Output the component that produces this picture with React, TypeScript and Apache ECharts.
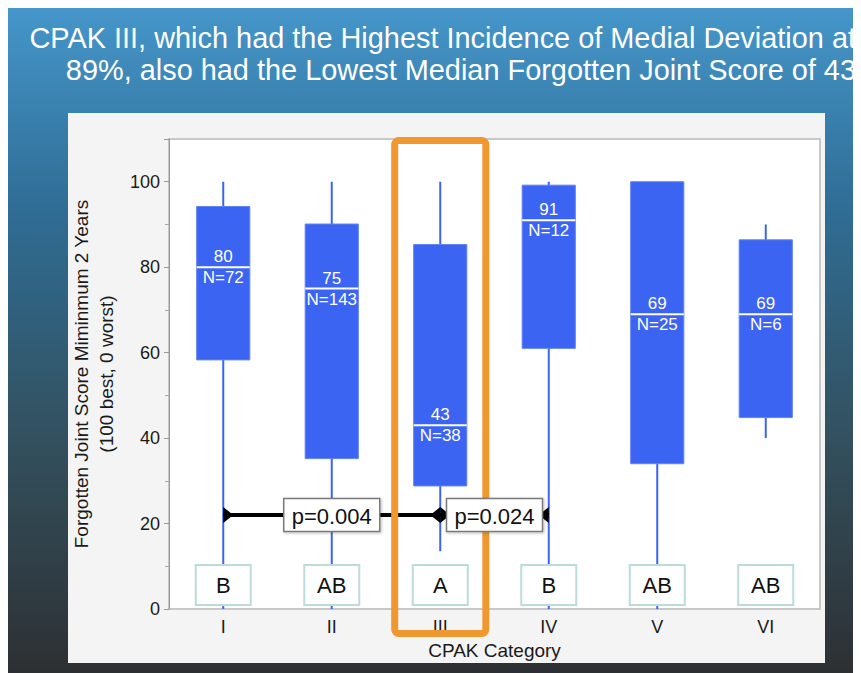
import React, { useEffect, useRef } from 'react';
import * as echarts from 'echarts';

// ---- data ----
const categories = ['I', 'II', 'III', 'IV', 'V', 'VI'];
const whiskerLow = [0, 0, 13.5, 0, 0, 40];
const q1Values = [58.3, 35.2, 28.8, 61, 34, 44.8];
const medianValues = [80, 75, 43, 91, 69, 69];
const q3Values = [94.2, 90.1, 85.3, 99.2, 100, 86.4];
const whiskerHigh = [100, 100, 100, 100, 100, 90];
const nCounts = [72, 143, 38, 12, 25, 6];
const groupLetters = ['B', 'AB', 'A', 'B', 'AB', 'AB'];
const comparisonFrom = [0, 2];
const comparisonTo = [2, 3];
const comparisonLabels = ['p=0.004', 'p=0.024'];
const comparisonLevel = 22;
const letterLevel = 5.6;
const highlightedCategory = 'III';
const yTickLabels = [0, 20, 40, 60, 80, 100];
const Y_MAX = 110;

const titleLines = [
  'CPAK III, which had the Highest Incidence of Medial Deviation at',
  '89%, also had the Lowest Median Forgotten Joint Score of 43',
];

const FONT = '"Liberation Sans", Arial, Helvetica, sans-serif';
const BLUE = '#3b64f2';

export default function App() {
  const ref = useRef<HTMLDivElement>(null);

  useEffect(() => {
    document.documentElement.style.overflow = 'hidden';
    document.body.style.overflow = 'hidden';
    const el = ref.current;
    if (!el) return;
    const chart = echarts.init(el, undefined, { renderer: 'svg' });
    const W = el.clientWidth;
    const H = el.clientHeight;

    const boxData = categories.map((_, i) => [
      i,
      whiskerLow[i],
      q1Values[i],
      medianValues[i],
      q3Values[i],
      whiskerHigh[i],
    ]);
    const letterData = categories.map((_, i) => [i, letterLevel]);
    const compData = comparisonFrom.map((f, i) => [f, comparisonTo[i], comparisonLevel]);
    const hiIdx = categories.indexOf(highlightedCategory);

    const option: any = {
      animation: false,
      title: {
        text: titleLines.join('\n'),
        left: W - 5,
        top: 14,
        padding: 0,
        textAlign: 'right',
        textStyle: {
          color: '#ffffff',
          fontSize: 28.9,
          lineHeight: 32,
          fontWeight: 'normal',
          fontFamily: FONT,
        },
      },
      graphic: [
        {
          type: 'rect',
          z: -20,
          silent: true,
          shape: { x: 0, y: 0, width: W, height: H },
          style: {
            fill: new echarts.graphic.LinearGradient(0, 0, 0, 1, [
              { offset: 0, color: '#4596ca' },
              { offset: 0.3, color: '#2f6d95' },
              { offset: 0.65, color: '#33505e' },
              { offset: 1, color: '#2d3033' },
            ]),
          },
        },
        {
          type: 'rect',
          z: -10,
          silent: true,
          shape: { x: 60, y: 105, width: 757, height: 550 },
          style: { fill: '#f4f4f4' },
        },
      ],
      grid: {
        left: 161,
        right: 41,
        top: 131,
        bottom: 64,
        show: true,
        backgroundColor: '#ffffff',
        borderColor: '#c8c8c8',
        borderWidth: 2,
      },
      xAxis: {
        type: 'category',
        data: categories,
        axisLine: { show: false },
        axisTick: { show: false },
        axisLabel: { color: '#1a1a1a', fontSize: 18, margin: 9, fontFamily: FONT },
        name: 'CPAK Category',
        nameLocation: 'middle',
        nameGap: 30,
        nameTextStyle: { color: '#1a1a1a', fontSize: 19, fontFamily: FONT },
        splitLine: { show: false },
      },
      yAxis: {
        type: 'value',
        min: 0,
        max: Y_MAX,
        interval: 20,
        axisLine: { show: true, lineStyle: { color: '#999999', width: 1 } },
        axisTick: { show: true, length: 5, lineStyle: { color: '#999999' } },
        minorTick: { show: true, splitNumber: 2, length: 4, lineStyle: { color: '#aaaaaa' } },
        splitLine: { show: false },
        axisLabel: {
          color: '#1a1a1a',
          fontSize: 18,
          margin: 9,
          fontFamily: FONT,
          showMaxLabel: false,
          formatter: (v: number) => (yTickLabels.indexOf(v) >= 0 ? String(v) : ''),
        },
        name: 'Forgotten Joint Score Miminmum 2 Years\n(100 best, 0 worst)',
        nameLocation: 'middle',
        nameRotate: 90,
        nameGap: 47,
        nameTextStyle: { color: '#1a1a1a', fontSize: 19, lineHeight: 25, fontFamily: FONT },
      },
      series: [
        {
          type: 'custom',
          name: 'boxes',
          clip: false,
          z: 2,
          encode: { x: 0, y: [1, 2, 3, 4, 5] },
          data: boxData,
          renderItem: (params: any, api: any) => {
            const idx = api.value(0);
            const lo = api.coord([idx, api.value(1)]);
            const q1 = api.coord([idx, api.value(2)]);
            const med = api.coord([idx, api.value(3)]);
            const q3 = api.coord([idx, api.value(4)]);
            const hi = api.coord([idx, api.value(5)]);
            const w = api.size([1, 0])[0] * 0.49;
            const x = med[0];
            const i = params.dataIndex;
            return {
              type: 'group',
              children: [
                {
                  type: 'line',
                  shape: { x1: x, y1: hi[1], x2: x, y2: lo[1] },
                  style: { stroke: BLUE, lineWidth: 2 },
                },
                {
                  type: 'rect',
                  shape: { x: x - w / 2, y: q3[1], width: w, height: q1[1] - q3[1] },
                  style: { fill: BLUE, stroke: '#6283f5', lineWidth: 1 },
                },
                {
                  type: 'line',
                  shape: { x1: x - w / 2, y1: med[1], x2: x + w / 2, y2: med[1] },
                  style: { stroke: '#ffffff', lineWidth: 2 },
                },
                {
                  type: 'text',
                  x: x,
                  y: med[1],
                  style: {
                    text: `${medianValues[i]}\nN=${nCounts[i]}`,
                    fill: '#ffffff',
                    fontSize: 17,
                    lineHeight: 21,
                    fontFamily: FONT,
                    align: 'center',
                    verticalAlign: 'middle',
                  },
                },
              ],
            };
          },
        },
        {
          type: 'custom',
          name: 'letters',
          clip: false,
          z: 3,
          encode: { x: 0, y: 1 },
          data: letterData,
          renderItem: (params: any, api: any) => {
            const p = api.coord([api.value(0), api.value(1)]);
            const bw = 55;
            const bh = 40;
            return {
              type: 'group',
              children: [
                {
                  type: 'rect',
                  shape: { x: p[0] - bw / 2, y: p[1] - bh / 2, width: bw, height: bh },
                  style: { fill: '#ffffff', stroke: '#bcdcdc', lineWidth: 2 },
                },
                {
                  type: 'text',
                  x: p[0],
                  y: p[1],
                  style: {
                    text: groupLetters[params.dataIndex],
                    fill: '#111111',
                    fontSize: 22,
                    fontFamily: FONT,
                    align: 'center',
                    verticalAlign: 'middle',
                  },
                },
              ],
            };
          },
        },
        {
          type: 'custom',
          name: 'comparisonLines',
          clip: false,
          z: 4,
          encode: { x: [0, 1], y: 2 },
          data: compData,
          renderItem: (params: any, api: any) => {
            const a = api.coord([api.value(0), api.value(2)]);
            const b = api.coord([api.value(1), api.value(2)]);
            const y = a[1];
            const hh = 8;
            const tw = 10;
            return {
              type: 'group',
              children: [
                {
                  type: 'line',
                  shape: { x1: a[0], y1: y, x2: b[0], y2: y },
                  style: { stroke: '#000000', lineWidth: 4 },
                },
                {
                  type: 'polygon',
                  shape: { points: [[a[0], y - hh], [a[0] + tw, y], [a[0], y + hh]] },
                  style: { fill: '#000000' },
                },
                {
                  type: 'polygon',
                  shape: { points: [[b[0], y - hh], [b[0] - tw, y], [b[0], y + hh]] },
                  style: { fill: '#000000' },
                },
              ],
            };
          },
        },
        {
          type: 'custom',
          name: 'highlight',
          clip: false,
          z: 5,
          encode: { x: 0, y: 1 },
          data: [[hiIdx, Y_MAX]],
          renderItem: (params: any, api: any) => {
            const top = api.coord([api.value(0), api.value(1)]);
            const bottom = api.coord([api.value(0), 0]);
            const w = api.size([1, 0])[0] * 0.84;
            return {
              type: 'rect',
              shape: {
                x: top[0] - w / 2,
                y: top[1] + 1.5,
                width: w,
                height: bottom[1] - top[1] + 23,
                r: 4,
              },
              style: { fill: 'none', stroke: '#f0982f', lineWidth: 7 },
            };
          },
        },
        {
          type: 'custom',
          name: 'comparisonLabels',
          clip: false,
          z: 6,
          encode: { x: [0, 1], y: 2 },
          data: compData,
          renderItem: (params: any, api: any) => {
            const a = api.coord([api.value(0), api.value(2)]);
            const b = api.coord([api.value(1), api.value(2)]);
            const cx = (a[0] + b[0]) / 2;
            const y = a[1];
            const bw = 96;
            const bh = 33;
            return {
              type: 'group',
              children: [
                {
                  type: 'rect',
                  shape: { x: cx - bw / 2, y: y - bh / 2, width: bw, height: bh },
                  style: {
                    fill: '#ffffff',
                    stroke: '#7a7a7a',
                    lineWidth: 1.5,
                    shadowBlur: 3,
                    shadowColor: 'rgba(0,0,0,0.25)',
                    shadowOffsetX: 1,
                    shadowOffsetY: 1,
                  },
                },
                {
                  type: 'text',
                  x: cx,
                  y: y + 1,
                  style: {
                    text: comparisonLabels[params.dataIndex],
                    fill: '#111111',
                    fontSize: 22,
                    fontFamily: FONT,
                    align: 'center',
                    verticalAlign: 'middle',
                  },
                },
              ],
            };
          },
        },
      ],
    };

    chart.setOption(option);
    return () => {
      chart.dispose();
    };
  }, []);

  return <div ref={ref} style={{ width: 853, height: 665 }} />;
}
